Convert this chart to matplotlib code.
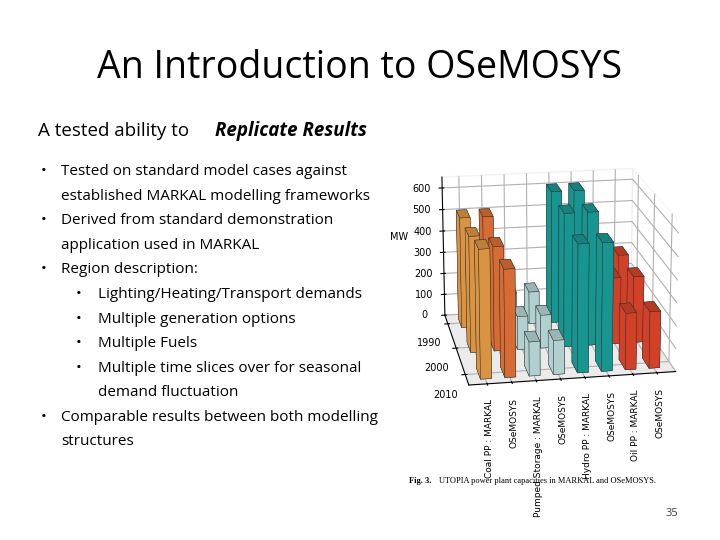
import matplotlib
matplotlib.use("Agg")
import matplotlib.pyplot as plt
import numpy as np

categories = ["Coal PP : MARKAL", "OSeMOSYS", "Pumped Storage : MARKAL", "OSeMOSYS",
              "Hydro PP : MARKAL", "OSeMOSYS", "Oil PP : MARKAL", "OSeMOSYS"]
years = ["1990", "2000", "2010"]
values = {
    "1990": [510, 510, 150, 150, 610, 610, 300, 300],
    "2000": [520, 470, 150, 150, 600, 600, 300, 300],
    "2010": [560, 470, 150, 150, 560, 560, 250, 250],
}
colors = ["#f7a64a", "#f27a3a", "#c8ecec", "#c8ecec", "#1aa9a4", "#1aa9a4", "#ee4a2c", "#ee4a2c"]

fig = plt.figure(figsize=(7.2, 5.4), dpi=100)
fig.patch.set_facecolor("white")
fig.text(0.5, 0.875, "An Introduction to OSeMOSYS", ha="center", va="center",
         fontsize=27, family="Open Sans")
fig.text(0.053, 0.757, "A tested ability to", fontsize=13.5, family="Open Sans", va="center")
fig.text(0.298, 0.757, "Replicate Results", fontsize=13.5, family="Open Sans",
         weight="bold", style="italic", va="center")
lines = [
    (0.057, 0.085, "•", "Tested on standard model cases against"),
    (None, 0.085, None, "established MARKAL modelling frameworks"),
    (0.057, 0.085, "•", "Derived from standard demonstration"),
    (None, 0.085, None, "application used in MARKAL"),
    (0.057, 0.085, "•", "Region description:"),
    (0.105, 0.136, "•", "Lighting/Heating/Transport demands"),
    (0.105, 0.136, "•", "Multiple generation options"),
    (0.105, 0.136, "•", "Multiple Fuels"),
    (0.105, 0.136, "•", "Multiple time slices over for seasonal"),
    (None, 0.136, None, "demand fluctuation"),
    (0.057, 0.085, "•", "Comparable results between both modelling"),
    (None, 0.085, None, "structures"),
]
y = 0.682
for bx, tx, b, t in lines:
    if b:
        fig.text(bx, y, b, fontsize=11, family="Open Sans", va="center")
    fig.text(tx, y, t, fontsize=11, family="Open Sans", va="center")
    y -= 0.0455
fig.text(0.925, 0.045, "35", fontsize=8, color="#404040", family="Open Sans")
fig.text(0.568, 0.106, "Fig. 3.", fontsize=6, weight="bold", family="Liberation Serif")
fig.text(0.61, 0.106, "UTOPIA power plant capacities in MARKAL and OSeMOSYS.", fontsize=6,
         family="Liberation Serif")

ax = fig.add_axes([0.53, 0.20, 0.47, 0.58], projection="3d")
ax.set_facecolor("white")
for i, yr in enumerate(years):
    yi = 2 - i  # 1990 at back
    for j, v in enumerate(values[yr]):
        ax.bar3d(j, yi, 0, 0.45, 0.4, v, color=colors[j], edgecolor="#333333", linewidth=0.3, shade=True)
ax.set_xticks(np.arange(len(categories)) + 0.2)
ax.set_xticklabels(categories, rotation=90, fontsize=6.5, ha="center", va="top")
ax.set_yticks([2.2, 1.2, 0.2])
ax.set_yticklabels(years, fontsize=7)
ax.set_zlim(0, 650)
ax.set_zticks([0, 100, 200, 300, 400, 500, 600])
ax.tick_params(axis="z", labelsize=7)
ax.tick_params(axis="x", pad=0)
ax.set_zlabel("MW", fontsize=7)
ax.view_init(elev=18, azim=-100)
for a in (ax.xaxis, ax.yaxis, ax.zaxis):
    a.pane.set_facecolor((1, 1, 1, 0))
ax.zaxis.pane.set_facecolor((0.85, 0.85, 0.85, 0.5))
fig.savefig("out.png", dpi=100)
